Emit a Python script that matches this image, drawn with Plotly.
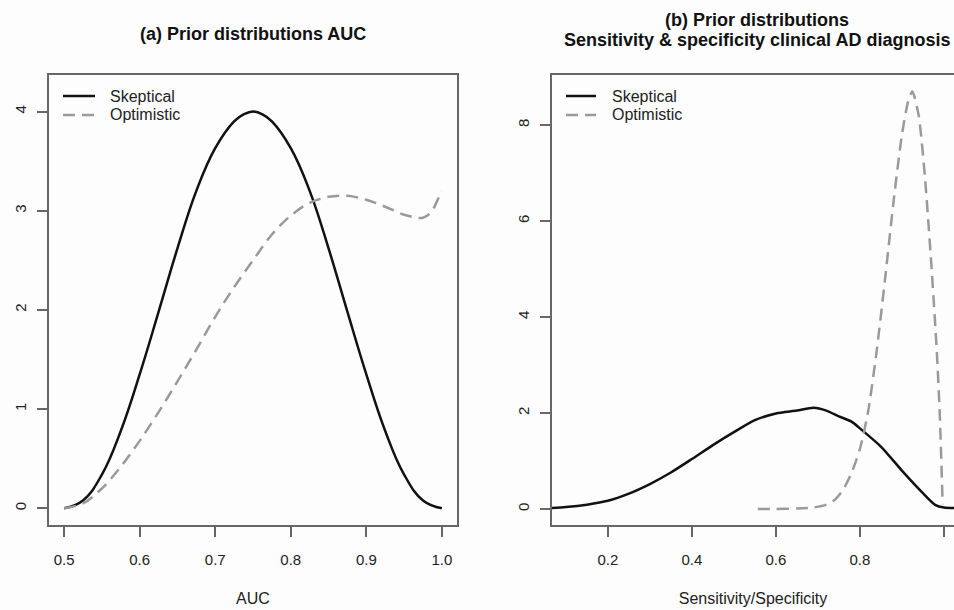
import plotly.graph_objects as go

# ---------- data: panel (a) AUC priors ----------
auc_x = [0.5, 0.525, 0.55, 0.575, 0.6, 0.625, 0.65, 0.675, 0.7, 0.725, 0.7375, 0.75,
         0.7625, 0.775, 0.8, 0.825, 0.85, 0.875, 0.9, 0.925, 0.95, 0.975, 1.0]
auc_skeptical = [0.0, 0.08, 0.34, 0.78, 1.35, 1.98, 2.62, 3.20, 3.63, 3.90, 3.97, 4.0,
                 3.97, 3.90, 3.63, 3.20, 2.62, 1.98, 1.35, 0.78, 0.34, 0.08, 0.0]
auc_opt_x = [0.5, 0.525, 0.55, 0.575, 0.6, 0.625, 0.65, 0.675, 0.7, 0.725, 0.75,
             0.775, 0.8, 0.825, 0.85, 0.875, 0.9, 0.925, 0.95, 0.975, 0.986, 0.995, 1.0]
auc_optimistic = [0.0, 0.05, 0.20, 0.42, 0.68, 0.97, 1.28, 1.60, 1.93, 2.23, 2.50,
                  2.76, 2.95, 3.08, 3.14, 3.15, 3.11, 3.04, 2.96, 2.93, 2.99, 3.12, 3.2]

# ---------- data: panel (b) sensitivity/specificity priors ----------
ss_skep_x = [0.067, 0.1, 0.15, 0.2, 0.25, 0.3, 0.35, 0.4, 0.45, 0.5, 0.55, 0.6,
             0.65, 0.69, 0.72, 0.75, 0.78, 0.8, 0.85, 0.9, 0.95, 0.98, 1.0, 1.03]
ss_skeptical = [0.02, 0.04, 0.09, 0.17, 0.32, 0.52, 0.76, 1.04, 1.33, 1.60, 1.85, 1.99,
                2.05, 2.11, 2.05, 1.93, 1.82, 1.68, 1.30, 0.80, 0.33, 0.08, 0.03, 0.02]
ss_opt_x = [0.557, 0.6, 0.65, 0.69, 0.72, 0.74, 0.76, 0.78, 0.80, 0.82, 0.84, 0.86,
            0.88, 0.90, 0.915, 0.925, 0.94, 0.955, 0.97, 0.983, 0.99, 0.997]
ss_optimistic = [0.0, 0.0, 0.01, 0.03, 0.09, 0.19, 0.40, 0.75, 1.25, 2.05, 3.3, 4.8,
                 6.4, 7.8, 8.5, 8.7, 8.2, 6.9, 5.1, 3.3, 2.0, 0.1]

auc_ticks = [0.5, 0.6, 0.7, 0.8, 0.9, 1.0]
auc_ticklabels = ["0.5", "0.6", "0.7", "0.8", "0.9", "1.0"]
ss_ticks = [0.2, 0.4, 0.6, 0.8, 1.0]
ss_ticklabels = ["0.2", "0.4", "0.6", "0.8", "1.0"]
dens_ticks_a = [0, 1, 2, 3, 4]
dens_ticks_b = [0, 2, 4, 6, 8]
series_names = ["Skeptical", "Optimistic"]

W, H = 954, 610
FONT = "Liberation Sans, Arial, Helvetica, sans-serif"
BLACK = "#111111"
GRAY = "#9a9a9a"
FRAME = "#666666"
BG = "#fdfdfd"
DASH = "12px,7px"

fig = go.Figure()
fig.add_trace(go.Scatter(x=auc_x, y=auc_skeptical, mode="lines", name=series_names[0],
                         line=dict(color=BLACK, width=2.5, shape="spline", smoothing=1.2),
                         xaxis="x", yaxis="y", showlegend=False))
fig.add_trace(go.Scatter(x=auc_opt_x, y=auc_optimistic, mode="lines", name=series_names[1],
                         line=dict(color=GRAY, width=2.5, dash=DASH, shape="spline", smoothing=1.0),
                         xaxis="x", yaxis="y", showlegend=False))
fig.add_trace(go.Scatter(x=ss_skep_x, y=ss_skeptical, mode="lines", name=series_names[0],
                         line=dict(color=BLACK, width=2.5, shape="spline", smoothing=0.7),
                         xaxis="x2", yaxis="y2", showlegend=False))
fig.add_trace(go.Scatter(x=ss_opt_x, y=ss_optimistic, mode="lines", name=series_names[1],
                         line=dict(color=GRAY, width=2.5, dash=DASH, shape="spline", smoothing=0.6),
                         xaxis="x2", yaxis="y2", showlegend=False))

ydom = [(H - 525) / H, (H - 75) / H]
axis_common = dict(showgrid=False, zeroline=False, showline=True, linecolor=FRAME, linewidth=2,
                   ticks="outside", ticklen=10, tickwidth=1.5, tickcolor=FRAME,
                   tickfont=dict(family=FONT, size=15, color="#222"), fixedrange=True)

def py(y_px):
    return 1 - y_px / H

# manual legends (R-style: short line sample + label)
shapes = []
annotations = []
for (x0, x1, tx) in [(63, 95, 108), (566, 596, 610)]:
    for i, (name, col, dash) in enumerate([(series_names[0], BLACK, "solid"),
                                           (series_names[1], GRAY, DASH)]):
        yy = 96 + 19 * i
        shapes.append(dict(type="line", xref="paper", yref="paper",
                           x0=x0 / W, x1=x1 / W, y0=py(yy), y1=py(yy),
                           line=dict(color=col, width=2.5, dash=dash)))
        annotations.append(dict(text=name, x=tx / W, y=py(yy), xref="paper", yref="paper",
                                showarrow=False, xanchor="left", yanchor="middle",
                                font=dict(family=FONT, size=16, color="#222")))

annotations += [
    dict(text="<b>(a) Prior distributions AUC</b>", x=253 / W, y=py(34),
         xref="paper", yref="paper", showarrow=False, xanchor="center", yanchor="middle",
         font=dict(family=FONT, size=18, color="#111")),
    dict(text="<b>(b) Prior distributions</b>", x=757 / W, y=py(20),
         xref="paper", yref="paper", showarrow=False, xanchor="center", yanchor="middle",
         font=dict(family=FONT, size=18, color="#111")),
    dict(text="<b>Sensitivity & specificity clinical AD diagnosis</b>", x=757 / W, y=py(40),
         xref="paper", yref="paper", showarrow=False, xanchor="center", yanchor="middle",
         font=dict(family=FONT, size=18, color="#111")),
]

fig.update_layout(
    width=W, height=H, margin=dict(l=0, r=0, t=0, b=0),
    paper_bgcolor=BG, plot_bgcolor=BG, showlegend=False,
    xaxis=dict(domain=[49 / W, 457 / W], range=[0.48, 1.02], tickvals=auc_ticks,
               ticktext=auc_ticklabels, mirror=True, anchor="y", ticklabelstandoff=10,
               title=dict(text="AUC", font=dict(family=FONT, size=16, color="#222"), standoff=26),
               **axis_common),
    yaxis=dict(domain=ydom, range=[-0.168, 4.368], tickvals=dens_ticks_a,
               ticktext=[str(v) for v in dens_ticks_a], tickangle=-90, mirror=True,
               anchor="x", ticklabelstandoff=5, **axis_common),
    xaxis2=dict(domain=[552 / W, 1.0], range=[0.067, 1.024], tickvals=ss_ticks,
                ticktext=ss_ticklabels, mirror=True, anchor="y2", ticklabelstandoff=10,
                title=dict(text="Sensitivity/Specificity", font=dict(family=FONT, size=16, color="#222"), standoff=26),
                **axis_common),
    yaxis2=dict(domain=ydom, range=[-0.334, 9.044], tickvals=dens_ticks_b,
                ticktext=[str(v) for v in dens_ticks_b], tickangle=-90, mirror=False,
                anchor="x2", ticklabelstandoff=5, **axis_common),
    shapes=shapes,
    annotations=annotations,
)

fig.write_html("out.html")
